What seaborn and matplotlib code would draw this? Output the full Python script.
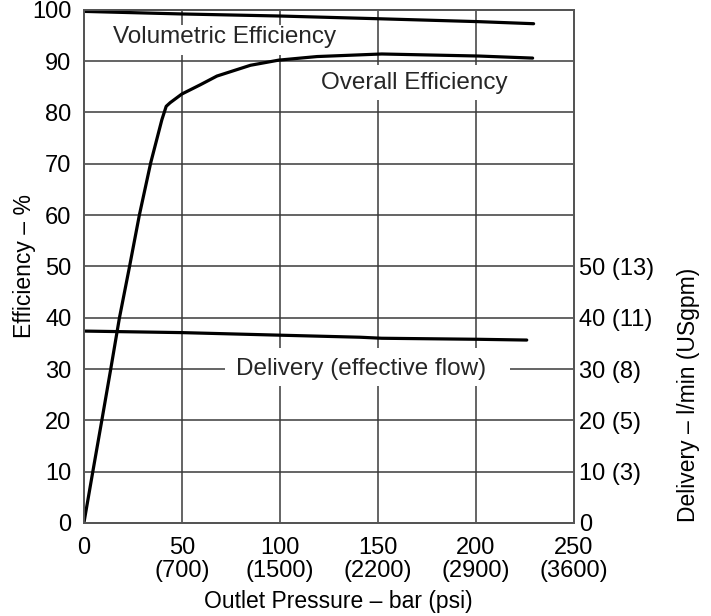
import matplotlib
matplotlib.use("Agg")
import matplotlib.pyplot as plt
import seaborn as sns
import pandas as pd
from matplotlib.patches import Rectangle

# ---- data ----
overall_x = [0, 4.5, 9.1, 13.7, 18.1, 23.2, 28.3, 34.1, 39.8, 42.0, 44.0, 50.0,
             59.4, 67.9, 85.0, 99.4, 110.5, 119.0, 152.0, 201.6, 229.0]
overall_y = [0, 9.9, 19.9, 30.0, 39.9, 49.8, 60.0, 70.2, 78.6, 81.2, 81.9, 83.6,
             85.4, 87.1, 89.2, 90.2, 90.6, 90.9, 91.4, 91.0, 90.6]
volumetric_x = [0, 50, 100, 152, 201.6, 229.5]
volumetric_y = [99.7, 99.2, 98.8, 98.25, 97.7, 97.3]
delivery_x = [0, 50, 100, 141, 152, 201, 226]
delivery_y = [37.4, 37.1, 36.6, 36.2, 36.0, 35.8, 35.65]

x_ticks = [0, 50, 100, 150, 200, 250]
x_tick_labels = ["0", "50\n(700)", "100\n(1500)", "150\n(2200)", "200\n(2900)", "250\n(3600)"]
y_ticks = [0, 10, 20, 30, 40, 50, 60, 70, 80, 90, 100]
right_ticks = [0, 10, 20, 30, 40, 50]
right_tick_labels = ["0", "10 (3)", "20 (5)", "30 (8)", "40 (11)", "50 (13)"]

sns.set_theme(style="white")
plt.rcParams['font.family'] = ['Liberation Sans', 'DejaVu Sans']

fig = plt.figure(figsize=(7.11, 6.16), dpi=100)
ax = fig.add_axes([0.118, 0.151, 0.689, 0.833])

grid_c = "#3a3a3a"
for yv in y_ticks[1:-1]:
    ax.axhline(yv, color=grid_c, lw=1.1, zorder=0.5)
for xv in x_ticks[1:-1]:
    ax.axvline(xv, color=grid_c, lw=1.1, zorder=0.5)

# white label boxes
def box(x0, x1, y0, y1):
    ax.add_patch(Rectangle((x0, y0), x1 - x0, y1 - y0, facecolor="white",
                           edgecolor="none", zorder=1))

box(9.7, 133.6, 91.2, 97.1)
box(115.7, 221.0, 82.5, 89.3)
box(72.2, 217.5, 26.7, 34.1)

fs_ann = 17.5
fs_lab = 16.5
fs_tick = 17
ax.text(71.7, 94.7, "Volumetric Efficiency", ha="center", va="center", fontsize=fs_ann, zorder=3)
ax.text(168.4, 85.8, "Overall Efficiency", ha="center", va="center", fontsize=fs_ann, zorder=3)
ax.text(141.2, 30.0, "Delivery (effective flow)", ha="center", va="center", fontsize=fs_ann, zorder=3)

df_o = pd.DataFrame({"x": overall_x, "y": overall_y})
df_v = pd.DataFrame({"x": volumetric_x, "y": volumetric_y})
df_d = pd.DataFrame({"x": delivery_x, "y": delivery_y})
for df in (df_o, df_v, df_d):
    sns.lineplot(data=df, x="x", y="y", ax=ax, color="black", lw=2.3,
                 sort=False, estimator=None, zorder=4)

ax.set_xlim(0, 250)
ax.set_ylim(0, 100)
ax.set_xticks(x_ticks)
ax.set_xticklabels(x_tick_labels)
ax.set_yticks(y_ticks)
ax.tick_params(axis="both", length=0, labelsize=fs_tick, colors="black")
ax.tick_params(axis="y", pad=9)
ax.tick_params(axis="x", pad=10)
for lab in ax.get_xticklabels():
    lab.set_linespacing(1.05)
for s in ax.spines.values():
    s.set_color("#555555")
    s.set_linewidth(1.4)

ax.set_xlabel("Outlet Pressure – bar (psi)", fontsize=fs_lab, color="black")
ax.set_ylabel("Efficiency – %", fontsize=fs_lab, color="black")
ax.xaxis.set_label_coords(0.52, -0.13)
ax.yaxis.set_label_coords(-0.098, 0.5)

ax2 = ax.twinx()
ax2.set_ylim(0, 100)
ax2.set_yticks(right_ticks)
ax2.set_yticklabels(right_tick_labels)
ax2.tick_params(axis="y", length=0, labelsize=fs_tick, pad=4, colors="black")
ax2.grid(False)
for s in ax2.spines.values():
    s.set_color("#555555")
    s.set_linewidth(1.4)
ax2.set_ylabel("Delivery – l/min (USgpm)", fontsize=fs_lab, color="black")
ax2.yaxis.set_label_coords(1.21, 0.25)

fig.savefig("out.png", dpi=100)
